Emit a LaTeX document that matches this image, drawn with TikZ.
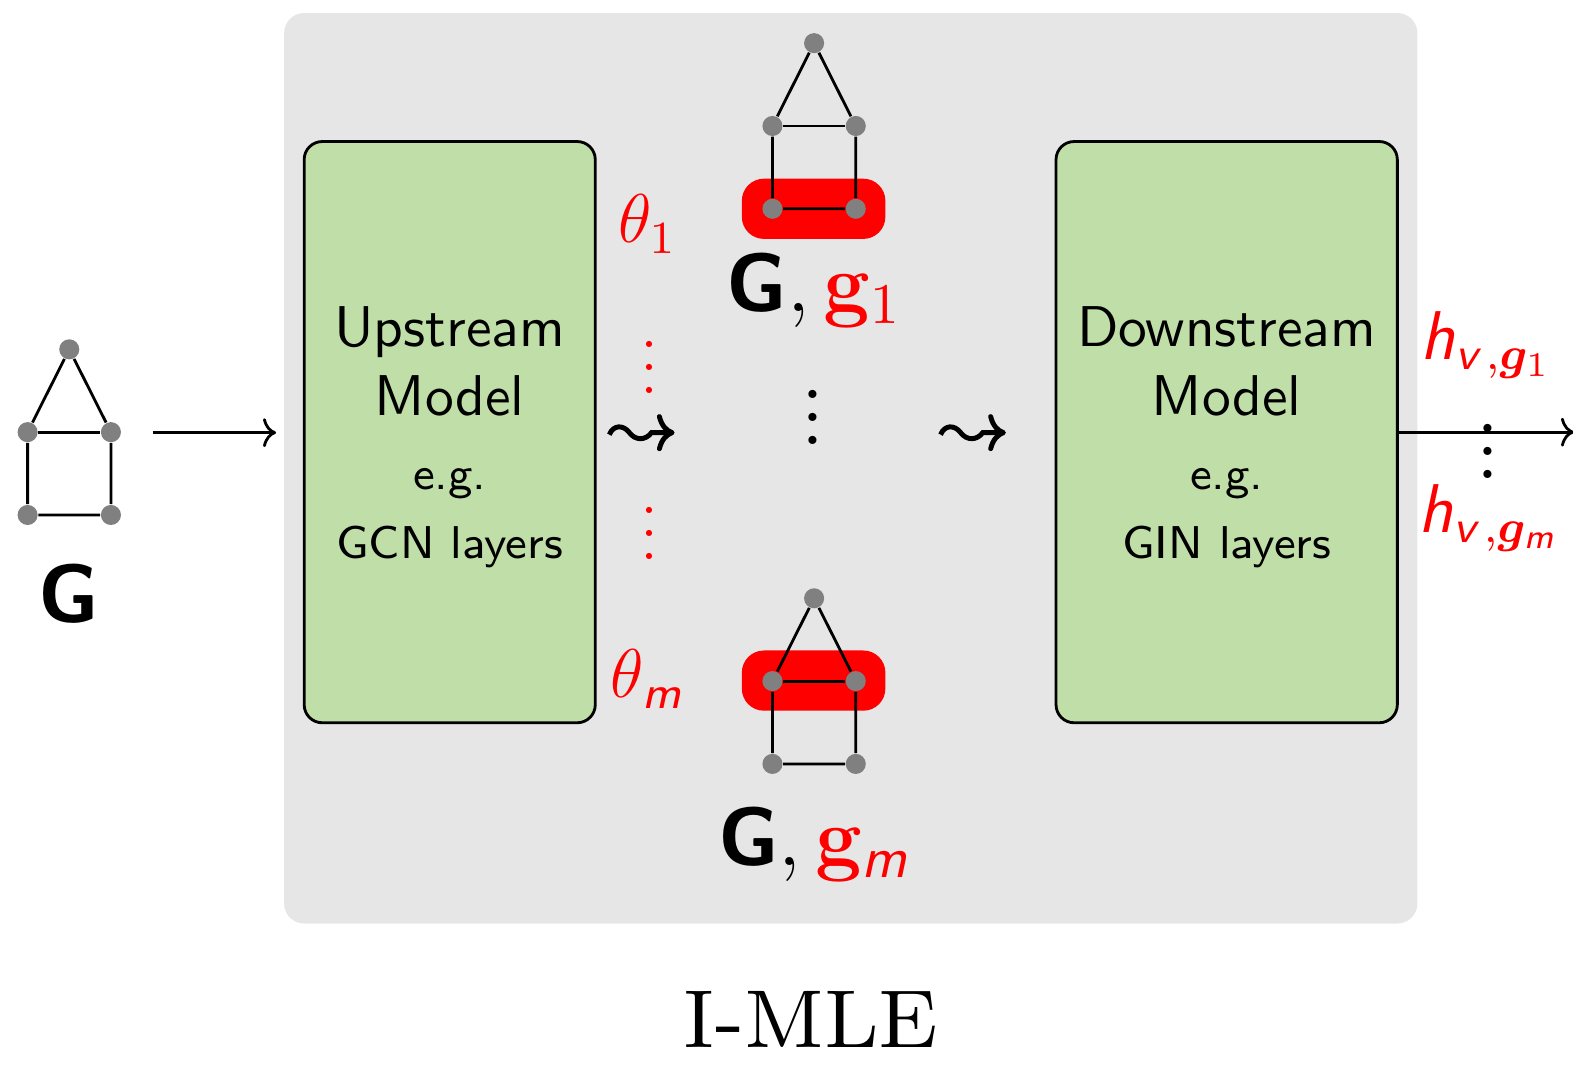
\documentclass[tikz,border=0pt]{standalone}
\usepackage{amsmath,amssymb,bm}
\usetikzlibrary{arrows.meta}
\definecolor{imlegray}{RGB}{230,230,230}
\definecolor{modelgreen}{RGB}{192,222,167}
\newcommand{\sfit}[1]{\textsf{\itshape #1}}
\newcommand{\bG}{\textsf{\bfseries G}}

\begin{document}
\begin{tikzpicture}[
    vert/.style={circle, fill=gray, inner sep=0pt, minimum size=0.2cm},
    model/.style={draw, line width=0.8pt, fill=modelgreen, rounded corners=0.18cm,
      minimum height=5.79cm},
    modeltext/.style={font=\sffamily, scale=1.63, align=center},
    edge/.style={line width=0.8pt},
    arr/.style={line width=0.8pt, -{Computer Modern Rightarrow[length=3.7pt, width=8.2pt]}},
    squig/.style={line width=1.4pt, -{Computer Modern Rightarrow[length=5pt, width=10.5pt]}},
    glabel/.style={anchor=base, font=\Large, scale=1.63},
    redlabel/.style={anchor=base, red, font=\large, scale=1.63},
    red dots/.style={red, font=\normalsize, scale=1.63, anchor=base},
    black dots/.style={font=\LARGE, scale=1.63, anchor=base}
  ]
    \useasboundingbox (0,0) rectangle (15.67,-10.68);
    \fill[imlegray, rounded corners=0.2cm] (2.83,-0.13) rectangle (14.12,-9.20);

    % highlighted edges g_1 and g_m
    \fill[red, rounded corners=0.22cm] (7.39,-1.78) rectangle (8.82,-2.38);
    \fill[red, rounded corners=0.22cm] (7.39,-6.48) rectangle (8.82,-7.08);

    % the three copies of G
    \foreach \g/\x/\y in {a/0.69/-3.48, b/8.11/-0.43, c/8.11/-5.96} {
      \begin{scope}[shift={(\x,\y)}]
        \node[vert] (\g1) at (0, 0) {};
        \node[vert] (\g2) at (-0.415, -0.825) {};
        \node[vert] (\g3) at (0.415, -0.825) {};
        \node[vert] (\g4) at (-0.415, -1.65) {};
        \node[vert] (\g5) at (0.415, -1.65) {};
      \end{scope}
      \draw[edge] (\g1) -- (\g2) -- (\g4) -- (\g5) -- (\g3) -- (\g1);
      \draw[edge] (\g2) -- (\g3);
    }

    \node[glabel] (Glab) at (0.69, -6.20) {\bG};
    \node[glabel] (g1lab) at (8.11, -3.10) {$\bG, \textcolor{red}{\mathbf{g}_1}$};
    \node[glabel] (gmlab) at (8.11, -8.62) {$\bG, \textcolor{red}{\mathbf{g}_{\sfit{m}}}$};

    \node[model, minimum width=2.90cm] (up) at (4.48, -4.305) {};
    \node[model, minimum width=3.40cm] (down) at (12.22, -4.305) {};
    \node[modeltext] (uptext) at ([yshift=-0.05cm]up.center)
      {Upstream\\ Model\\[1pt] {\footnotesize e.g.}\\ {\footnotesize GCN layers}};
    \node[modeltext] (downtext) at ([yshift=-0.05cm]down.center)
      {Downstream\\ Model\\[1pt] {\footnotesize e.g.}\\ {\footnotesize GIN layers}};

    \node[redlabel] (th1) at (6.45, -2.42) {$\theta_1$};
    \node[redlabel] (thm) at (6.45, -6.95) {$\theta_{\sfit{m}}$};
    \node[red dots] (rd1) at (6.47, -3.92) {\vdots};
    \node[red dots] (rd2) at (6.47, -5.57) {\vdots};
    \node[black dots] (bd1) at (8.10, -4.425) {\vdots};

    % sampling steps
    \foreach \sx in {6.07, 9.37} {
      \begin{scope}[shift={(\sx,-4.31)}]
        \draw[squig] (0,-0.02) .. controls (0.04,0.08) and (0.14,0.08) .. (0.20,0)
          .. controls (0.26,-0.08) and (0.36,-0.08) .. (0.42,0) -- (0.65,0);
      \end{scope}
    }

    \node[redlabel] (h1) at (14.81, -3.58) {$\sfit{h}_{\sfit{v}\,,\bm{g}_1}$};
    \node[redlabel] (hm) at (14.83, -5.30) {$\sfit{h}_{\sfit{v}\,,\bm{g}_{\sfit{m}}}$};
    \node[black dots] (bd2) at (14.82, -4.765) {\vdots};

    \coordinate (in0) at (1.52, -4.31);
    \coordinate (in1) at (2.75, -4.31);
    \coordinate (out) at (15.68, -4.305);
    \draw[arr] (in0) -- (in1);
    \draw[arr] (down.east) -- (out);

    \node[anchor=base, font=\footnotesize, scale=2.91] (title) at (8.08, -10.43) {I-MLE};
  \end{tikzpicture}
\end{document}
